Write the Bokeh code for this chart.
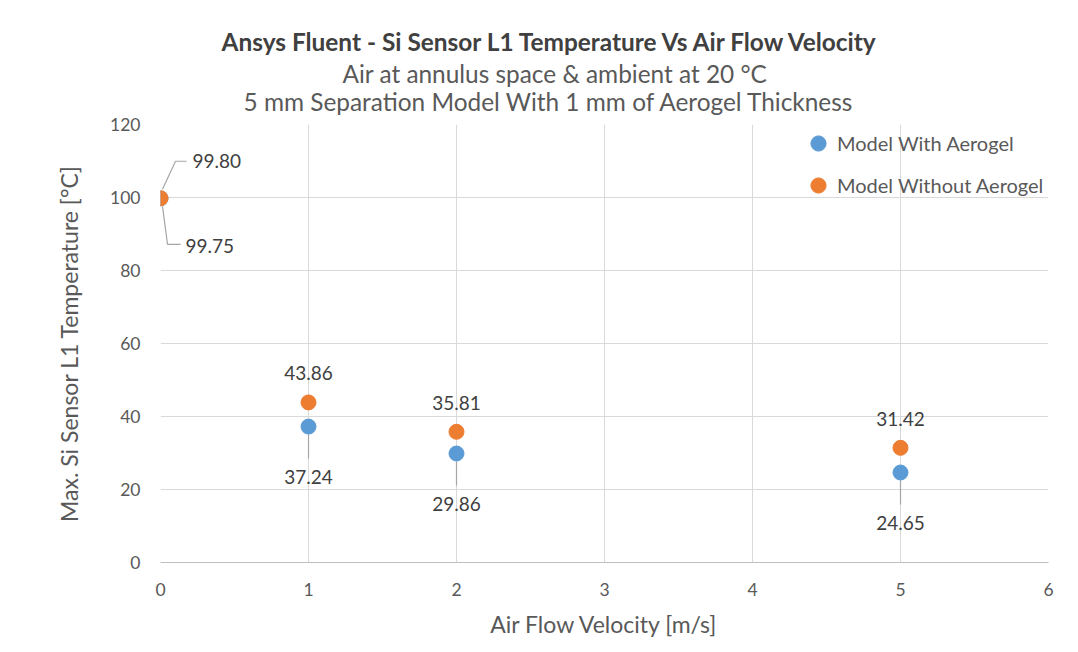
from bokeh.plotting import figure
from bokeh.models import ColumnDataSource, LabelSet, Label, Range1d, Legend, LegendItem, Title
from bokeh.core.properties import value
from bokeh.embed import file_html
from bokeh.resources import INLINE

velocity = [0, 1, 2, 5]
with_aerogel = [99.75, 37.24, 29.86, 24.65]
without_aerogel = [99.80, 43.86, 35.81, 31.42]
with_labels = ["99.75", "37.24", "29.86", "24.65"]
without_labels = ["99.80", "43.86", "35.81", "31.42"]
x_ticks = [0, 1, 2, 3, 4, 5, 6]
y_ticks = [0, 20, 40, 60, 80, 100, 120]

title1 = "Ansys Fluent - Si Sensor L1 Temperature Vs Air Flow Velocity"
title2 = "Air at annulus space & ambient at 20 °C"
title3 = "5 mm Separation Model With 1 mm of Aerogel Thickness"
x_title = "Air Flow Velocity [m/s]"
y_title = "Max. Si Sensor L1 Temperature [°C]"

FONT = "Lato"
BLUE = "#5b9bd5"
ORANGE = "#ed7d31"
GRID = "#d9d9d9"
TXT = "#595959"
LEADER = "#a6a6a6"

W, H = 1062, 646
ML, MR, MT, MB = 160, 14, 124, 84
XMIN, XMAX, YMIN, YMAX = 0, 6, 0, 120
pxx = (W - ML - MR) / (XMAX - XMIN)
pxy = (H - MT - MB) / (YMAX - YMIN)

p = figure(width=W, height=H, output_backend="svg", toolbar_location=None,
           x_range=Range1d(XMIN, XMAX), y_range=Range1d(YMIN, YMAX),
           min_border_left=ML, min_border_right=MR, min_border_top=MT, min_border_bottom=MB)
p.outline_line_color = None
p.background_fill_color = "white"
p.border_fill_color = "white"

p.xgrid.ticker = x_ticks
p.ygrid.ticker = y_ticks
p.xgrid.grid_line_color = GRID
p.ygrid.grid_line_color = GRID

p.xaxis.ticker = x_ticks
p.yaxis.ticker = y_ticks
for ax in (p.xaxis[0], p.yaxis[0]):
    ax.major_tick_line_color = None
    ax.minor_tick_line_color = None
    ax.major_tick_out = 0
    ax.major_tick_in = 0
    ax.major_label_text_font = FONT
    ax.major_label_text_font_size = "17.5px"
    ax.major_label_text_color = TXT
    ax.axis_label_text_font = FONT
    ax.axis_label_text_font_size = "23px"
    ax.axis_label_text_font_style = "normal"
    ax.axis_label_text_color = TXT
p.xaxis.axis_line_color = "#bfbfbf"
p.yaxis.axis_line_color = None
p.xaxis.major_label_standoff = 20
p.yaxis.major_label_standoff = 20
p.xaxis.axis_label = x_title
p.yaxis.axis_label = y_title
p.xaxis.axis_label_standoff = 11
p.yaxis.axis_label_standoff = 24

src = ColumnDataSource(dict(x=velocity, yw=with_aerogel, yo=without_aerogel))

def pt(x, y, dx, dy):
    return x + dx / pxx, y + dy / pxy

lx, ly = [], []
a = [pt(velocity[0], without_aerogel[0], *o) for o in [(2, 9), (15, 37), (26, 37)]]
lx.append([q[0] for q in a]); ly.append([q[1] for q in a])
b = [pt(velocity[0], with_aerogel[0], *o) for o in [(2, -8), (7, -46), (20, -46)]]
lx.append([q[0] for q in b]); ly.append([q[1] for q in b])
for xv, yv in zip(velocity[1:], with_aerogel[1:]):
    c = [pt(xv, yv, 0, -8), pt(xv, yv, 0, -32)]
    lx.append([q[0] for q in c]); ly.append([q[1] for q in c])
p.multi_line(lx, ly, line_color=LEADER, line_width=1.2)

rw = p.scatter("x", "yw", source=src, size=15, color=BLUE)
ro = p.scatter("x", "yo", source=src, size=15, color=ORANGE)

set_kw = dict(text_font=value(FONT), text_font_size="19px", text_color="#404040")
lab_kw = dict(text_font=FONT, text_font_size="19px", text_color="#404040")
src_o = ColumnDataSource(dict(x=velocity[1:], y=without_aerogel[1:], t=without_labels[1:]))
src_w = ColumnDataSource(dict(x=velocity[1:], y=with_aerogel[1:], t=with_labels[1:]))
p.add_layout(LabelSet(x="x", y="y", text="t", source=src_o, x_offset=0, y_offset=29,
                      text_align="center", text_baseline="middle", **set_kw))
p.add_layout(LabelSet(x="x", y="y", text="t", source=src_w, x_offset=0, y_offset=-50,
                      text_align="center", text_baseline="middle", **set_kw))
p.add_layout(Label(x=velocity[0], y=without_aerogel[0], text=without_labels[0], x_offset=32, y_offset=37,
                   text_align="left", text_baseline="middle", **lab_kw))
p.add_layout(Label(x=velocity[0], y=with_aerogel[0], text=with_labels[0], x_offset=25, y_offset=-48,
                   text_align="left", text_baseline="middle", **lab_kw))

# titles: added nearest-first
for txt, off, style, color, stand in [
        (title3, 243 - ML, "normal", TXT, 17),
        (title2, 342 - ML, "normal", TXT, -23),
        (title1, 221 - ML, "bold", "#404040", 25)]:
    p.add_layout(Title(text=txt, align="left", offset=off, text_font=FONT, text_font_size="24.4px",
                       text_font_style=style, text_color=color, standoff=stand), "above")

legend = Legend(items=[LegendItem(label="Model With Aerogel", renderers=[rw]),
                       LegendItem(label="Model Without Aerogel", renderers=[ro])],
                location="top_right", margin=0, padding=0, spacing=4,
                glyph_width=38, glyph_height=38, label_height=20, label_standoff=0, label_width=211,
                label_text_font=FONT, label_text_font_size="20px", label_text_color=TXT,
                background_fill_alpha=0, border_line_alpha=0)
p.add_layout(legend)

open("out.html", "w").write(file_html(p, INLINE))
